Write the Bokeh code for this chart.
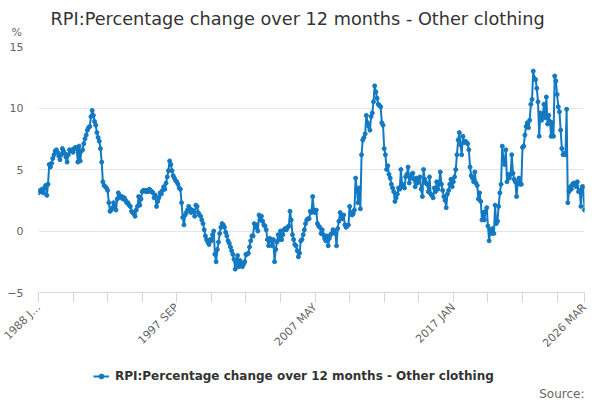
import math

from bokeh.embed import file_html
from bokeh.layouts import column
from bokeh.models import ColumnDataSource, FixedTicker, Label, Legend, LegendItem, Range1d, Title
from bokeh.plotting import figure
from bokeh.resources import INLINE

title_text = "RPI:Percentage change over 12 months - Other clothing"
series_name = "RPI:Percentage change over 12 months - Other clothing"
unit_text = "%"
source_text = "Source:"
start_year = 1988
month_names = ["JAN", "FEB", "MAR", "APR", "MAY", "JUN",
               "JUL", "AUG", "SEP", "OCT", "NOV", "DEC"]

# monthly values
v1988 = [3.1, 3.3, 3.2, 3.4, 3.1, 3.5, 3.7, 2.9, 3.8, 5.4, 5.2, 5.5]
v1989 = [5.9, 6.2, 6.5, 6.6, 6.4, 6.1, 5.8, 6.2, 6.7, 6.5, 6.3, 6.0]
v1990 = [5.6, 6.2, 6.6, 6.5, 6.6, 6.4, 6.7, 6.8, 6.7, 5.6, 6.9, 5.7]
v1991 = [6.5, 6.6, 7.1, 7.5, 7.8, 8.2, 8.4, 8.5, 9.3, 9.8, 9.4, 8.9]
v1992 = [8.6, 8.0, 7.6, 7.3, 6.7, 5.6, 4.0, 3.7, 3.6, 3.5, 3.3, 2.3]
v1993 = [1.6, 1.7, 1.9, 2.3, 2.0, 1.7, 2.6, 3.1, 2.9, 2.7, 2.8, 2.6]
v1994 = [2.7, 2.5, 2.3, 2.3, 2.1, 2.0, 1.6, 1.5, 1.4, 1.2, 1.7, 2.0]
v1995 = [2.8, 2.1, 2.6, 3.2, 3.3, 3.3, 3.2, 3.3, 3.2, 3.4, 3.3, 3.2]
v1996 = [3.1, 2.7, 2.9, 2.0, 2.4, 2.7, 3.1, 3.0, 3.3, 3.6, 3.4, 3.9]
v1997 = [4.4, 4.9, 5.7, 5.4, 4.9, 4.5, 4.3, 4.1, 4.0, 3.8, 3.5, 3.4]
v1998 = [2.3, 1.1, 0.5, 1.3, 1.5, 1.7, 2.0, 1.8, 1.5, 1.7, 1.6, 1.2]
v1999 = [2.1, 2.0, 1.5, 1.3, 1.2, 0.9, 0.6, 0.1, -0.4, -0.7, -0.9, -1.1]
v2000 = [-0.7, -0.8, -0.3, 0.0, -1.9, -2.5, -1.5, -0.9, -0.2, 0.3, 0.6, 0.5]
v2001 = [0.3, -0.1, -0.4, -0.8, -1.0, -1.3, -1.6, -1.9, -2.3, -3.1, -2.6, -2.0]
v2002 = [-2.9, -2.4, -2.6, -2.9, -2.7, -2.5, -1.9, -1.9, -1.8, -1.3, -0.8, -0.4]
v2003 = [-0.4, 0.6, 0.3, 0.5, 0.0, 1.3, 0.9, 1.2, 0.8, 0.5, 0.4, 0.1]
v2004 = [-0.7, -1.2, -0.6, -0.8, -1.2, -0.7, -2.5, -1.5, -0.9, -0.3, -0.7, 0.0]
v2005 = [-0.7, -0.3, 0.1, 0.2, 0.1, 0.3, 0.4, 1.6, 0.9, -0.3, -0.7, -1.1]
v2006 = [-1.2, -1.6, -2.1, -1.8, -0.8, -0.7, -0.3, 0.1, 0.6, 0.9, 1.0, 1.0]
v2007 = [1.6, 1.5, 2.8, 1.7, 1.5, 1.7, 0.6, 0.4, 0.3, -0.2, 0.1, -0.3]
v2008 = [-0.6, -0.8, -0.4, -1.2, -0.6, -0.3, -0.2, 0.1, 0.0, -0.2, -1.2, 0.2]
v2009 = [0.8, 1.5, 1.2, 1.0, 1.3, 0.5, 0.3, 0.4, 0.5, 2.0, 1.5, 1.3]
v2010 = [1.4, 1.7, 4.3, 3.4, 2.3, 3.5, 1.8, 6.2, 7.4, 7.6, 7.9, 9.4]
v2011 = [8.8, 8.5, 8.2, 9.3, 9.6, 10.5, 11.8, 11.3, 10.8, 10.3, 10.2, 10.1]
v2012 = [8.8, 8.6, 6.7, 6.2, 5.0, 5.3, 4.6, 4.3, 3.8, 3.5, 3.2, 2.4]
v2013 = [2.7, 3.0, 3.5, 3.4, 5.0, 3.8, 3.6, 3.5, 4.4, 4.6, 5.2, 3.9]
v2014 = [4.3, 4.6, 4.7, 4.2, 3.6, 4.3, 3.9, 4.2, 4.4, 3.4, 2.8, 5.0]
v2015 = [4.2, 3.9, 3.8, 3.2, 4.4, 3.0, 2.9, 2.7, 3.5, 3.2, 4.0, 3.4]
v2016 = [3.8, 4.8, 3.8, 3.3, 2.8, 2.5, 1.9, 3.0, 3.3, 3.8, 4.2, 3.6]
v2017 = [4.0, 4.4, 5.0, 6.2, 7.4, 8.0, 7.0, 6.2, 7.7, 7.2, 7.3, 7.2]
v2018 = [7.1, 6.6, 5.2, 4.5, 4.3, 4.0, 4.8, 3.9, 3.7, 2.6, 3.1, 2.4]
v2019 = [0.9, 1.5, 0.9, 1.6, 1.9, 0.4, -0.8, 0.1, -0.2, 0.2, -0.2, 2.1]
v2020 = [0.6, 0.8, 2.0, 3.1, 3.8, 6.9, 5.8, 5.4, 6.6, 4.0, 4.6, 4.3]
v2021 = [4.6, 6.2, 4.7, 4.2, 4.0, 2.8, 3.9, 4.3, 3.8, 3.8, 6.8, 6.9]
v2022 = [7.8, 8.5, 8.8, 8.4, 9.0, 10.3, 10.7, 13.0, 12.4, 12.3, 11.6, 10.5]
v2023 = [7.7, 9.6, 9.0, 9.4, 10.3, 9.2, 10.9, 8.7, 9.4, 8.9, 7.7, 8.8]
v2024 = [7.7, 12.6, 12.2, 11.1, 10.1, 9.7, 8.2, 6.7, 6.2, 6.3, 6.2, 9.9]
v2025 = [2.3, 3.2, 3.6, 3.4, 3.8, 3.9, 3.7, 3.6, 4.0, 3.2, 3.3, 2.0]
v2026 = [3.6, 3.6, 1.7]

y_ticks = [-5, 0, 5, 10, 15]
x_tick_labels = ["1988 JAN", "1997 SEP", "2007 MAY", "2017 JAN", "2026 MAR"]
x_tick_short = {"1988 JAN": "1988 J\u2026"}  # first label is cut short in the original

values = (v1988 + v1989 + v1990 + v1991 + v1992 + v1993 + v1994 + v1995 + v1996 + v1997
          + v1998 + v1999 + v2000 + v2001 + v2002 + v2003 + v2004 + v2005 + v2006 + v2007
          + v2008 + v2009 + v2010 + v2011 + v2012 + v2013 + v2014 + v2015 + v2016 + v2017
          + v2018 + v2019 + v2020 + v2021 + v2022 + v2023 + v2024 + v2025 + v2026)
months = [f"{start_year + i // 12} {month_names[i % 12]}" for i in range(len(values))]
n = len(values)

source = ColumnDataSource(data=dict(x=list(range(n)), y=values, month=months))

blue = "#1279c2"
font = "DejaVu Sans"

p = figure(width=600, height=354, frame_width=546, frame_height=246,
           output_backend="svg", toolbar_location=None,
           x_range=Range1d(0, n - 1), y_range=Range1d(-5, 15),
           min_border_left=38, min_border_right=16, min_border_top=46, min_border_bottom=62)
p.outline_line_color = None
p.background_fill_color = "white"
p.border_fill_color = "white"

p.xgrid.grid_line_color = None
p.ygrid.grid_line_color = "#e6e6e6"

p.yaxis.ticker = FixedTicker(ticks=y_ticks)
p.yaxis.axis_line_color = None
p.yaxis.major_tick_line_color = None
p.yaxis.minor_tick_line_color = None
p.yaxis.major_tick_out = 0
p.yaxis.major_tick_in = 0
p.yaxis.major_label_standoff = 15
p.yaxis.major_label_text_font = font
p.yaxis.major_label_text_font_size = "11px"
p.yaxis.major_label_text_color = "#666666"

# ticks every 29 months, labels every 116 months plus the last month
tick_pos = list(range(0, n, 29)) + [n - 1]
overrides = {t: "" for t in tick_pos}
for lab in x_tick_labels:
    overrides[months.index(lab)] = x_tick_short.get(lab, lab)
p.xaxis.ticker = FixedTicker(ticks=tick_pos, minor_ticks=[])
p.xaxis.major_label_overrides = overrides
p.xaxis.major_label_orientation = math.pi / 4
p.xaxis.axis_line_color = "#ccd6eb"
p.xaxis.major_tick_line_color = "#ccd6eb"
p.xaxis.major_tick_out = 10
p.xaxis.major_tick_in = 0
p.xaxis.minor_tick_line_color = None
p.xaxis.major_label_standoff = 3
p.xaxis.major_label_text_font = font
p.xaxis.major_label_text_font_size = "11px"
p.xaxis.major_label_text_color = "#666666"

p.line("x", "y", source=source, line_color=blue, line_width=2, line_join="round")
p.scatter("x", "y", source=source, size=4, fill_color=blue, line_color=blue)

# side panels stack outward from the frame; first added sits next to it
p.add_layout(Title(text=unit_text, align="left", offset=-27, standoff=13,
                   vertical_align="middle", text_font=font, text_font_size="11px",
                   text_font_style="normal", text_color="#666666"), "above")
p.add_layout(Title(text=title_text, align="left", offset=12, standoff=-22,
                   vertical_align="middle", text_font=font, text_font_size="17.7px",
                   text_font_style="normal", text_color="#333333"), "above")

# strip under the chart for the legend and the source note;
# its frame lines up with the chart frame (x 38..584)
foot = figure(width=600, height=44, output_backend="svg", toolbar_location=None,
              x_axis_type=None, y_axis_type=None, min_border=0,
              x_range=Range1d(0, n - 1), y_range=Range1d(100, 101))
foot.outline_line_color = None
foot.grid.grid_line_color = None
foot.background_fill_color = "white"
foot.border_fill_color = "white"
# same series, kept out of view: only its legend key shows
key_line = foot.line("x", "y", source=source, line_color=blue, line_width=2)
key_pts = foot.scatter("x", "y", source=source, size=4, fill_color=blue, line_color=blue)

legend = Legend(items=[LegendItem(label=series_name, renderers=[key_line, key_pts])],
                location=(55, 18), padding=0, margin=0, spacing=0,
                glyph_width=16, glyph_height=12, label_height=12, label_standoff=6,
                border_line_color=None, background_fill_alpha=0,
                label_text_font=font, label_text_font_size="12px",
                label_text_font_style="bold", label_text_color="#333333")
foot.add_layout(legend)
foot.add_layout(Label(x=546, y=8, x_units="screen", y_units="screen", text=source_text,
                      text_align="right", text_baseline="middle", text_font=font,
                      text_font_size="12px", text_color="#666666"))

open("out.html", "w").write(file_html(column(p, foot), INLINE))
